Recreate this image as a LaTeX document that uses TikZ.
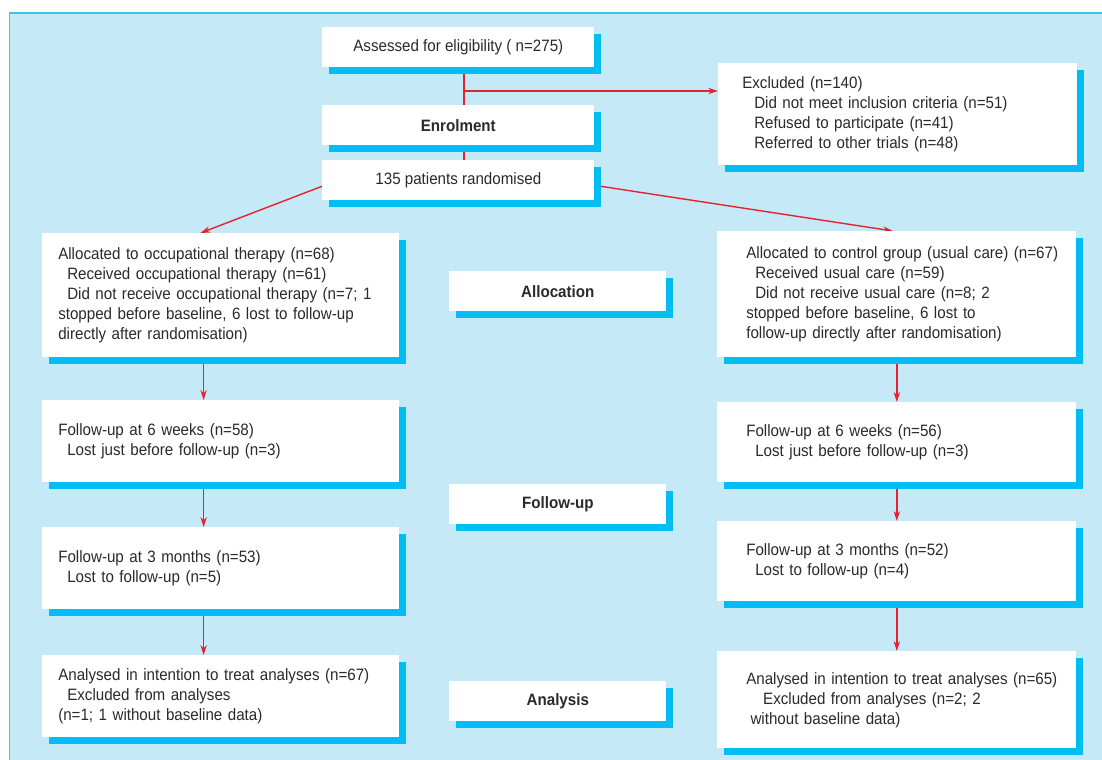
\documentclass[tikz,border=0pt]{standalone}
\usepackage{fontspec}
\setmainfont[FakeStretch=0.92]{Liberation Sans}
\usetikzlibrary{arrows.meta,shadows}

\definecolor{panelblue}{HTML}{C6E9F8}
\definecolor{edgeblue}{HTML}{45C0EC}
\definecolor{shadowblue}{HTML}{00BDF2}
\definecolor{linkred}{HTML}{E52330}
\definecolor{inkgrey}{HTML}{2B2A29}

\pgfdeclarelayer{back}
\pgfdeclarelayer{links}
\pgfsetlayers{back,links,main}

\tikzset{
  flowbox/.style={fill=white, anchor=north west, inner ysep=0pt,
    drop shadow={shadow xshift=0.17cm, shadow yshift=-0.17cm,
      fill=shadowblue, opacity=1},
    text=inkgrey, font=\fontsize{11.7}{14.2}\selectfont},
  stagebox/.style={flowbox, minimum width=#1, minimum height=1cm, inner xsep=0pt},
  listbox/.style n args={3}{flowbox, align=left, inner xsep=#1,
    text width=#2, minimum height=#3},
  link/.style={draw=linkred, line width=1pt},
  arrowlink/.style={link, -{Stealth[length=7pt,width=4.5pt]}}
}

\begin{document}
\begin{tikzpicture}[x=0.025cm, y=-0.025cm]
      \useasboundingbox (0,0) rectangle (1102,760);

      % Light blue panel with its border
      \begin{pgfonlayer}{back}
        \fill[panelblue] (9.5,13) rectangle (1102,760);
        \draw[edgeblue, line width=1pt] (1102,13) -- (9.5,13) -- (9.5,760);
      \end{pgfonlayer}

      % Enrolment column
      \node[stagebox=6.8cm] (assess) at (322,27) {Assessed for eligibility ( n=275)};
      \node[stagebox=6.8cm, font=\fontsize{11.7}{14.2}\selectfont\bfseries] (enrol) at (322,105) {Enrolment};
      \node[stagebox=6.8cm] (rand) at (322,160) {135 patients randomised};
      \node[listbox={0.6cm}{7.775cm}{2.55cm}] (excl) at (718,63) {Excluded (n=140)\\
      \hspace*{8.5pt}Did not meet inclusion criteria (n=51)\\
      \hspace*{8.5pt}Refused to participate (n=41)\\
      \hspace*{8.5pt}Referred to other trials (n=48)};

      % Stage labels in the middle
      \node[stagebox=5.425cm, font=\fontsize{11.7}{14.2}\selectfont\bfseries] (alloclab) at (449,271) {Allocation};
      \node[stagebox=5.425cm, font=\fontsize{11.7}{14.2}\selectfont\bfseries] (fulab) at (449,484) {Follow-up};
      \node[stagebox=5.425cm, font=\fontsize{11.7}{14.2}\selectfont\bfseries] (analab) at (449,681) {Analysis};

      % Occupational therapy arm
      \node[listbox={0.4cm}{8.125cm}{3.1cm}] (occ) at (42,233) {Allocated to occupational therapy (n=68)\\
      \hspace*{6.4pt}Received occupational therapy (n=61)\\
      \hspace*{6.4pt}Did not receive occupational therapy (n=7; 1\\
      stopped before baseline, 6 lost to follow-up\\
      directly after randomisation)};
      \node[listbox={0.4cm}{8.125cm}{2.05cm}] (occsix) at (42,400) {Follow-up at 6 weeks (n=58)\\
      \hspace*{6.4pt}Lost just before follow-up (n=3)};
      \node[listbox={0.4cm}{8.125cm}{2.05cm}] (occthree) at (42,527) {Follow-up at 3 months (n=53)\\
      \hspace*{6.4pt}Lost to follow-up (n=5)};
      \node[listbox={0.4cm}{8.125cm}{2.05cm}] (occitt) at (42,655) {Analysed in intention to treat analyses (n=67)\\
      \hspace*{6.4pt}Excluded from analyses\\
      (n=1; 1 without baseline data)};

      % Usual care arm
      \node[listbox={0.725cm}{7.525cm}{3.15cm}] (usual) at (717,231) {\mbox{Allocated to control group (usual care) (n=67)}\\
      \hspace*{6.4pt}Received usual care (n=59)\\
      \hspace*{6.4pt}Did not receive usual care (n=8; 2\\
      stopped before baseline, 6 lost to\\
      follow-up directly after randomisation)};
      \node[listbox={0.725cm}{7.525cm}{2cm}] (usualsix) at (717,402) {Follow-up at 6 weeks (n=56)\\
      \hspace*{6.4pt}Lost just before follow-up (n=3)};
      \node[listbox={0.725cm}{7.525cm}{2cm}] (usualthree) at (717,521) {Follow-up at 3 months (n=52)\\
      \hspace*{6.4pt}Lost to follow-up (n=4)};
      \node[listbox={0.725cm}{7.525cm}{2.425cm}] (usualitt) at (717,651) {\mbox{Analysed in intention to treat analyses (n=65)}\\
      \hspace*{12pt}Excluded from analyses (n=2; 2\\
      \hspace*{3pt}without baseline data)};

      % Red connectors, kept behind the boxes
      \begin{pgfonlayer}{links}
        \draw[link] ([xshift=0.14cm]assess.south) -- ([xshift=0.14cm]rand.north);
        \coordinate (split) at (463.6,91);
        \draw[arrowlink] (split) -- (split -| excl.west);
        \draw[arrowlink] ([yshift=-0.15cm]rand.west) -- ([xshift=-0.51cm]occ.north);
        \draw[arrowlink] ([xshift=0.15cm,yshift=-0.15cm]rand.east) -- ([xshift=-0.1cm]usual.north);
        \foreach \a/\b in {occ/occsix, occsix/occthree, occthree/occitt}
          \draw[arrowlink] ([xshift=-0.43cm]\a.south) -- ([xshift=-0.43cm]\b.north);
        \foreach \a/\b in {usual/usualsix, usualsix/usualthree, usualthree/usualitt}
          \draw[arrowlink] (\a.south) -- (\b.north);
      \end{pgfonlayer}
\end{tikzpicture}
\end{document}
